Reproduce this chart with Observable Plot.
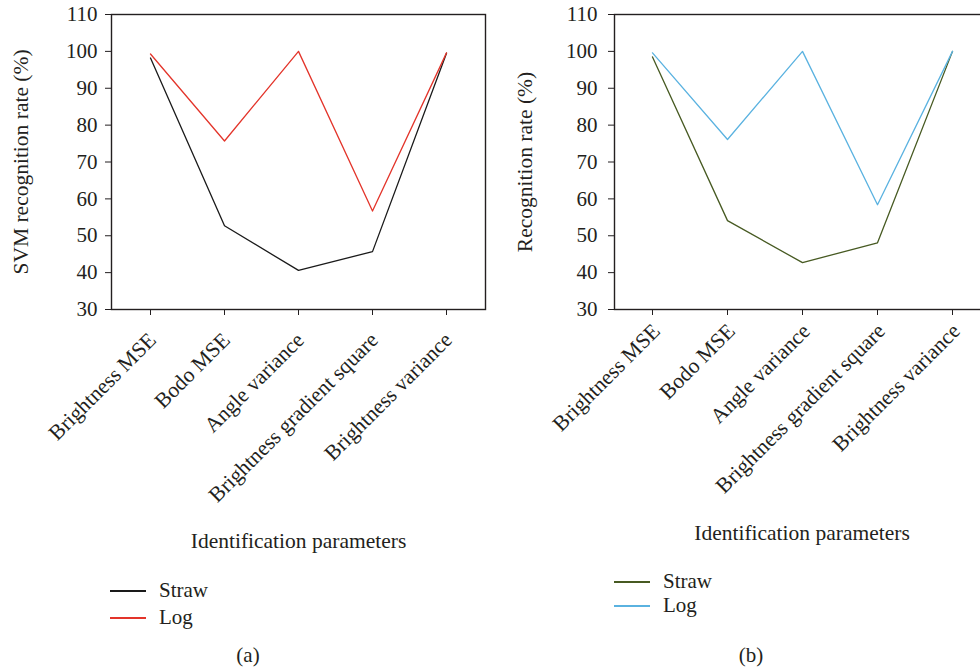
<!DOCTYPE html>
<html>
<head>
<meta charset="utf-8">
<script src="https://cdn.jsdelivr.net/npm/d3@7"></script>
<script src="https://cdn.jsdelivr.net/npm/@observablehq/plot@0.6"></script>
<style>
  html, body { margin: 0; padding: 0; background: #fff; }
  #root { position: relative; width: 980px; height: 669px; overflow: hidden; background: #fff;
          font-family: "Liberation Serif", serif; color: #231f20; }
  .panel { position: absolute; top: 0; }
  .panel svg { max-width: none !important; font-family: "Liberation Serif", serif !important; font-size: 21px !important; }
  .panel svg text { font-family: "Liberation Serif", serif !important; }
  .panel svg g[aria-label="x-axis tick label"] text { font-size: 21.5px; }
  .panel svg g[aria-label$="axis label"] text { font-size: 21.5px; }
  .legend { position: absolute; font-size: 21px; }
  .legend .row { position: absolute; left: 0; white-space: nowrap; display: flex; align-items: center; }
  .legend .sw { width: 36px; height: 2px; margin-right: 13px; }
  .cap { position: absolute; font-size: 21px; transform: translateX(-50%); }
</style>
</head>
<body>
<div id="root"></div>
<script>
const categories = ["Brightness MSE", "Bodo MSE", "Angle variance", "Brightness gradient square", "Brightness variance"];
const seriesNames = ["Straw", "Log"];
const strawA = [98.2, 52.7, 40.6, 45.7, 99.5];
const logA = [99.3, 75.7, 100.0, 56.7, 99.6];
const strawB = [98.5, 54.1, 42.7, 48.1, 100.0];
const logB = [99.6, 76.1, 100.0, 58.4, 100.0];
const yTicks = [30, 40, 50, 60, 70, 80, 90, 100, 110];
const colorsA = ["#1a1a1a", "#e3342a"];
const colorsB = ["#475a22", "#5ab2e0"];

function rows(straw, log) {
  const out = [];
  categories.forEach((c, i) => out.push({cat: c, value: straw[i], series: "Straw"}));
  categories.forEach((c, i) => out.push({cat: c, value: log[i], series: "Log"}));
  return out;
}

function makePlot({data, colors, yLabel, marginLeft, width, xLabelOffset, xTickPadding, xDx, yTickPadding, yLabelOffset}) {
  return Plot.plot({
    width, height: 560,
    marginLeft, marginRight: 5, marginTop: 14, marginBottom: 251,
    style: {fontFamily: "Liberation Serif", fontSize: "21px", color: "#231f20", background: "transparent", overflow: "visible"},
    x: {type: "point", domain: categories, padding: 0.5},
    y: {domain: [30, 110]},
    color: {domain: seriesNames, range: colors},
    marks: [
      Plot.frame({stroke: "#231f20", strokeWidth: 1.4}),
      Plot.axisY({ticks: yTicks, tickSize: 6, tickPadding: yTickPadding, stroke: "#231f20",
        label: yLabel, labelAnchor: "center", labelArrow: "none", labelOffset: yLabelOffset}),
      Plot.axisX({tickSize: 6, tickFormat: () => "", stroke: "#231f20",
        label: "Identification parameters", labelAnchor: "center", labelArrow: "none", labelOffset: xLabelOffset}),
      Plot.axisX({tickRotate: -45, tickSize: 0, tickPadding: xTickPadding + 6, dx: xDx, label: null}),
      Plot.line(data, {x: "cat", y: "value", z: "series", stroke: "series", strokeWidth: 1.3})
    ]
  });
}

const root = document.getElementById("root");

const pa = document.createElement("div");
pa.className = "panel"; pa.style.left = "0px";
pa.appendChild(makePlot({data: rows(strawA, logA), colors: colorsA, yLabel: "SVM recognition rate (%)", marginLeft: 111, width: 490,
  xLabelOffset: 238, xTickPadding: 21, xDx: 2, yTickPadding: 8, yLabelOffset: 99}));
root.appendChild(pa);

const pb = document.createElement("div");
pb.className = "panel"; pb.style.left = "490px";
pb.appendChild(makePlot({data: rows(strawB, logB), colors: colorsB, yLabel: "Recognition rate (%)", marginLeft: 124, width: 504,
  xLabelOffset: 230, xTickPadding: 12, xDx: 4, yTickPadding: 11, yLabelOffset: 98}));
root.appendChild(pb);

function legend(left, top, gap, colors) {
  const lg = document.createElement("div");
  lg.className = "legend"; lg.style.left = left + "px"; lg.style.top = top + "px";
  seriesNames.forEach((name, i) => {
    const r = document.createElement("div");
    r.className = "row"; r.style.top = (i * gap) + "px";
    const sw = document.createElement("div");
    sw.className = "sw"; sw.style.background = colors[i];
    const t = document.createElement("span"); t.textContent = name;
    r.appendChild(sw); r.appendChild(t); lg.appendChild(r);
  });
  root.appendChild(lg);
}
legend(110, 578, 27, colorsA);
legend(614, 569, 24, colorsB);

function caption(text, x, y) {
  const c = document.createElement("div");
  c.className = "cap"; c.style.left = x + "px"; c.style.top = y + "px"; c.textContent = text;
  root.appendChild(c);
}
caption("(a)", 248, 643);
caption("(b)", 751, 643);
</script>
</body>
</html>
